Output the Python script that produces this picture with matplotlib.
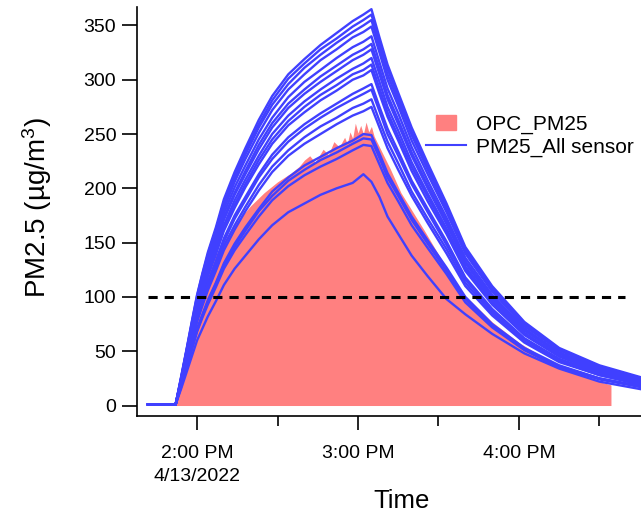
import numpy as np
import matplotlib
matplotlib.use("Agg")
import matplotlib.pyplot as plt
import matplotlib.patches as mpatches
from matplotlib.lines import Line2D
from matplotlib.legend_handler import HandlerPatch

plt.rcParams['font.family'] = ['Liberation Sans', 'DejaVu Sans']
plt.rcParams['mathtext.fontset'] = 'custom'
plt.rcParams['mathtext.rm'] = 'Liberation Sans'
plt.rcParams['mathtext.it'] = 'Liberation Sans'

# ---- data (minutes after 2:00 PM, 4/13/2022) ----
sensor_t = [-18.3, -8, -6, -4, -2, 0, 2, 4, 7, 10, 14, 18, 23, 28, 34, 40, 46, 52, 58, 62,
            65, 68, 71, 75, 80, 86, 93, 100, 110, 122, 135, 150, 165.5]

sensor_01 = [1, 1, 26, 51, 77, 102, 122, 141, 164, 190, 215, 237, 263, 285, 305, 319, 332, 343, 354, 360,
             365, 339, 314, 288, 256, 223, 186, 146, 110, 77, 53, 37, 26]
sensor_02 = [1, 1, 25, 50, 76, 101, 121, 139, 162, 187, 212, 234, 259, 281, 301, 315, 328, 338, 349, 355,
             360, 335, 310, 284, 252, 220, 184, 144, 108, 76, 52, 36, 25]
sensor_03 = [1, 1, 25, 50, 75, 99, 119, 137, 160, 185, 209, 231, 256, 277, 296, 311, 323, 334, 344, 350,
             355, 330, 305, 280, 249, 217, 181, 142, 107, 75, 51, 36, 25]
sensor_04 = [1, 1, 24, 49, 73, 98, 117, 134, 157, 181, 206, 227, 251, 272, 291, 305, 318, 328, 339, 344,
             349, 325, 300, 276, 244, 213, 178, 140, 105, 73, 51, 35, 24]
sensor_05 = [1, 1, 24, 48, 71, 95, 114, 131, 153, 177, 201, 221, 245, 265, 284, 298, 309, 320, 330, 335,
             340, 316, 292, 269, 238, 207, 173, 136, 102, 71, 49, 34, 24]
sensor_06 = [1, 1, 23, 47, 70, 93, 112, 128, 150, 173, 196, 216, 240, 260, 278, 291, 303, 313, 323, 328,
             333, 310, 286, 263, 233, 203, 170, 133, 100, 70, 48, 33, 23]
sensor_07 = [1, 1, 23, 46, 69, 92, 110, 126, 148, 171, 194, 213, 236, 256, 274, 287, 298, 308, 318, 323,
             328, 305, 282, 259, 230, 200, 167, 131, 98, 69, 48, 33, 23]
sensor_08 = [1, 1, 22, 45, 67, 90, 107, 123, 144, 166, 189, 208, 230, 250, 267, 280, 291, 301, 310, 315,
             320, 298, 275, 253, 224, 195, 163, 128, 96, 67, 46, 32, 22]
sensor_09 = [1, 1, 22, 44, 66, 88, 105, 121, 141, 163, 185, 204, 226, 245, 262, 275, 286, 295, 305, 309,
             314, 292, 270, 248, 220, 192, 160, 126, 94, 66, 46, 31, 22]
sensor_10 = [1, 1, 22, 43, 65, 87, 104, 119, 139, 161, 182, 201, 222, 241, 258, 270, 281, 290, 300, 304,
             309, 287, 266, 244, 216, 188, 158, 124, 93, 65, 45, 31, 22]
sensor_11 = [1, 1, 21, 41, 62, 83, 99, 114, 133, 154, 175, 192, 213, 231, 247, 259, 269, 278, 287, 292,
             296, 275, 255, 234, 207, 181, 151, 118, 89, 62, 43, 30, 21]
sensor_12 = [1, 1, 20, 41, 61, 81, 97, 112, 131, 151, 172, 189, 210, 227, 243, 255, 265, 274, 282, 287,
             291, 271, 250, 230, 204, 178, 148, 116, 87, 61, 42, 29, 20]
sensor_13 = [1, 1, 20, 39, 59, 79, 94, 109, 127, 147, 166, 183, 203, 220, 235, 247, 257, 265, 274, 278,
             282, 262, 243, 223, 197, 172, 144, 113, 85, 59, 41, 28, 20]
sensor_14 = [1, 1, 19, 39, 58, 77, 92, 106, 124, 143, 162, 179, 198, 215, 230, 241, 250, 259, 267, 271,
             275, 256, 237, 217, 193, 168, 140, 110, 83, 58, 40, 28, 19]
sensor_15 = [1, 1, 18, 35, 53, 71, 84, 97, 113, 131, 149, 164, 181, 197, 210, 221, 229, 237, 244, 250,
             249, 232, 214, 196, 174, 152, 127, 100, 75, 53, 37, 25, 18]
sensor_16 = [1, 1, 17, 35, 52, 69, 83, 95, 112, 129, 146, 161, 179, 193, 207, 217, 226, 233, 241, 246,
             245, 228, 210, 193, 171, 149, 124, 98, 73, 52, 36, 25, 17]
sensor_17 = [1, 1, 17, 34, 51, 68, 81, 93, 109, 126, 143, 157, 174, 189, 202, 212, 220, 227, 235, 240,
             239, 222, 205, 188, 166, 145, 121, 95, 72, 51, 35, 24, 17]
sensor_18 = [1, 1, 15, 30, 45, 60, 71, 82, 96, 111, 126, 138, 153, 166, 178, 186, 194, 200, 205, 213,
             206, 192, 174, 158, 138, 119, 98, 84, 66, 48, 34, 22, 15]

sensors = [sensor_01, sensor_02, sensor_03, sensor_04, sensor_05, sensor_06,
           sensor_07, sensor_08, sensor_09, sensor_10, sensor_11, sensor_12,
           sensor_13, sensor_14, sensor_15, sensor_16, sensor_17, sensor_18]

opc_t = [-8, -6, -4, -2, 0, 3, 6, 10, 15, 20, 25, 30, 35, 38, 40, 42, 44, 47, 49, 51,
         53, 55, 56, 57, 58, 59, 60, 61, 62, 63, 64, 65, 66, 68, 72, 76, 80, 85, 90, 95,
         100, 110, 120, 130, 140, 150, 154.3]
opc_pm25 = [0, 20, 45, 72, 98, 118, 135, 152, 170, 184, 196, 206, 214, 220, 226, 230, 224, 236, 231, 243,
            238, 247, 241, 252, 246, 260, 251, 258, 250, 261, 252, 257, 248, 238, 218, 196, 180, 160, 139, 118,
            101, 77, 58, 43, 31, 22, 19]

threshold = 100
threshold_t = [-18.3, 159.5]

xtick_pos = [0, 60, 120]
xtick_labels = ["2:00 PM\n4/13/2022", "3:00 PM", "4:00 PM"]
xminor_pos = [30, 90, 150]

blue = "#4040FF"
pink = "#FF8080"

# ---- plot ----
fig = plt.figure(figsize=(6.41, 5.19), dpi=100)
ax = fig.add_axes([137 / 641, 103.5 / 519, 504 / 641, 408.5 / 519])

ax.fill_between(opc_t, 0, opc_pm25, color=pink, linewidth=0, zorder=1)
for s in sensors:
    ax.plot(sensor_t, s, color=blue, linewidth=1.7, zorder=2)
ax.plot(threshold_t, [threshold, threshold], color="black", linewidth=2.2,
        linestyle=(0, (3, 2.3)), zorder=3)

ax.set_xlim(-22.4, 165.5)
ax.set_ylim(-9.2, 367)

ax.set_yticks(np.arange(0, 351, 50))
ax.set_xticks(xtick_pos)
ax.set_xticklabels(xtick_labels, linespacing=1.45)
ax.set_xticks(xminor_pos, minor=True)

for side in ["top", "right"]:
    ax.spines[side].set_visible(False)
for side in ["left", "bottom"]:
    ax.spines[side].set_linewidth(1.2)

ax.tick_params(axis="both", which="major", direction="out", length=10, width=1.2,
               labelsize=14, colors="black")
ax.tick_params(axis="y", length=11, pad=4)
ax.tick_params(axis="x", pad=11)
ax.tick_params(axis="x", which="minor", direction="out", length=7, width=1.2)

ax.set_ylabel("PM2.5 (µg/m$^{3}$)", fontsize=20)
ax.yaxis.set_label_coords(-0.165, 0.509)
ax.set_xlabel("Time", fontsize=18.5)
ax.xaxis.set_label_coords(0.524, -0.181)

# legend with a short colour block like the original
opc_handle = mpatches.Patch(color=pink)
sensor_handle = Line2D([], [], color=blue, linewidth=1.5)


def small_patch(legend, orig_handle, xdescent, ydescent, width, height, fontsize):
    return mpatches.Rectangle((-xdescent + width * 0.26, -ydescent), width * 0.49, height)


ax.legend([opc_handle, sensor_handle], ["OPC_PM25", "PM25_All sensor"],
          loc="upper left", bbox_to_anchor=(426 / 641, 1 - 115 / 519),
          bbox_transform=fig.transFigure, frameon=False, fontsize=15,
          borderpad=0, borderaxespad=0, handlelength=1.9, handletextpad=0.5,
          labelspacing=0.15,
          handler_map={opc_handle: HandlerPatch(patch_func=small_patch)})

fig.savefig("out.png", dpi=100)
